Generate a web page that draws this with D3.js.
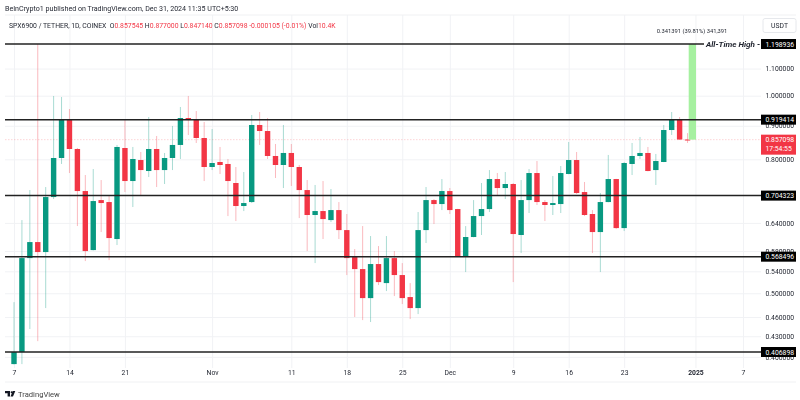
<!DOCTYPE html>
<html><head><meta charset="utf-8">
<script src="https://cdn.jsdelivr.net/npm/d3@7/dist/d3.min.js"></script>
<style>
html,body{margin:0;padding:0;background:#fff;overflow:hidden}
svg{display:block;filter:blur(.3px)}
text{font-family:Roboto,sans-serif;fill:#1e222d}
</style></head><body><svg id="c" width="800" height="400"></svg>
<script>
const opens=[.3900,.4068,.5657,.5984,.5778,.7008,.8037,.9182,.8295,.7157,.5818,.6934,.6886,.6048,.8324,.7413,.7980,.7678,.8295,.7704,.8037,.8413,.9248,.9215,.8621,.7787,.7925,.7870,.7362,.6791,.6886,.9024,.8835,.8094,.7842,.8180,.7787,.7182,.6580,.6672,.6464,.6695,.6241,.5677,.5443,.4916,.5540,.5182,.5657,.5330,.4934,.4747,.6241,.6934,.6838,.7157,.6719,.5697,.6091,.6556,.6719,.7465,.7233,.7336,.6134,.6934,.7624,.6886,.6815,.6838,.7598,.7980,.7132,.6603,.6198,.6886,.7465,.6285,.7870,.8094,.8180,.7704,.7925,.8866,.9194,.857545];
const highs=[.4847,.6464,.7182,1.1989,.7259,.9991,.9955,.9544,.8324,.7571,.7732,.7439,.7033,.8413,.9182,.8354,.8208,.9280,.8682,.8180,.8992,.9612,.9991,.9477,.9119,.8897,.8354,.8009,.7787,.7651,.9346,.9444,.9248,.8442,.9024,.8442,.7842,.7439,.7311,.7413,.7208,.6886,.6603,.5839,.6330,.6112,.5901,.6112,.5798,.5559,.5182,.6649,.7259,.6959,.7465,.7233,.6725,.6330,.6934,.7362,.7704,.7624,.7651,.7362,.7439,.7732,.7952,.6934,.7545,.7814,.8501,.8208,.7388,.6695,.7108,.8123,.7470,.7925,.8472,.8652,.8354,.8151,.9024,.9444,.9280,.8770];
const lows=[.3895,.3900,.4410,.4227,.4747,.6959,.7870,.7624,.6330,.5598,.5810,.6198,.5617,.5922,.7132,.6767,.7058,.7518,.7259,.7336,.7704,.8009,.8713,.8472,.7413,.7704,.7598,.6556,.6442,.6672,.6862,.8413,.8009,.7492,.7233,.7285,.6510,.5798,.5559,.6048,.6419,.6048,.5330,.4600,.4551,.4520,.5146,.5039,.4951,.4814,.4567,.4648,.5964,.6375,.6695,.6603,.5677,.5386,.6085,.6134,.6649,.7033,.6959,.5200,.5758,.6626,.6815,.6442,.6580,.6626,.7590,.7083,.6556,.5758,.5386,.6880,.6263,.6220,.7571,.8009,.7670,.7311,.7920,.8713,.8560,.84714];
const closes=[.4068,.5657,.5984,.5778,.7008,.8037,.9182,.8295,.7157,.5798,.6910,.6862,.6069,.8354,.7413,.8009,.7704,.8295,.7704,.8037,.8413,.9248,.9182,.8621,.7787,.7897,.7842,.7413,.6791,.6862,.9024,.8835,.8094,.7842,.8180,.7787,.7182,.6580,.6672,.6487,.6695,.6241,.5657,.5443,.4916,.5540,.5200,.5657,.5330,.4916,.4747,.6241,.6934,.6838,.7157,.6695,.5697,.6091,.6556,.6719,.7465,.7233,.7336,.6155,.6934,.7624,.6886,.6815,.6862,.7624,.7980,.7108,.6580,.6198,.6886,.7465,.6285,.7897,.8094,.8180,.7678,.7952,.8866,.9215,.8575,.857098];
const levels=[1.198936,.919414,.704323,.568496,.406898];
const priceTicks=[1.1,1.0,.9,.8,.64,.58,.54,.5,.46,.43,.40];
const lastPrice=.857098, athPrice=1.198936;
const startDate=Date.UTC(2024,9,7);
const timeTicks=[[2024,9,7,"7"],[2024,9,14,"14"],[2024,9,21,"21"],[2024,10,1,"Nov"],[2024,10,11,"11"],[2024,10,18,"18"],[2024,10,25,"25"],[2024,11,1,"Dec"],[2024,11,9,"9"],[2024,11,16,"16"],[2024,11,23,"23"],[2025,0,1,"2025"],[2025,0,7,"7"]];
const header="BeInCrypto1 published on TradingView.com, Dec 31, 2024 11:35 UTC+5:30";
const legend=[["SPX6900 / TETHER, 1D, COINEX  O","#1e222d"],["0.857545","#F23645"],[" H","#1e222d"],["0.877000","#F23645"],[" L","#1e222d"],["0.847140","#F23645"],[" C","#1e222d"],["0.857098","#F23645"],[" -0.000105 (-0.01%)","#F23645"],[" Vol","#1e222d"],["10.4K","#F23645"]];

const UP="#089981",DN="#F23645";
const svg=d3.select("#c");
const L=5,R=761,T=15,B=368;
const x=d3.scaleUtc().domain([new Date(startDate),new Date(Date.UTC(2025,0,7))]).range([14,743]);
const y=d3.scaleLog().domain([athPrice,.406898]).range([44,352]);
const dates=opens.map((_,i)=>d3.utcDay.offset(new Date(startDate),i));

svg.append("line").attr("x1",L).attr("x2",796).attr("y1",T).attr("y2",T).attr("stroke","#f0f1f3");
svg.append("line").attr("x1",L).attr("x2",796).attr("y1",382).attr("y2",382).attr("stroke","#f0f1f3");

const tv=timeTicks.map(t=>new Date(Date.UTC(t[0],t[1],t[2])));
const gx=svg.append("g").attr("transform",`translate(0,${B})`)
  .call(d3.axisBottom(x).tickValues(tv).tickSize(-(B-T)).tickPadding(2).tickFormat((d,i)=>timeTicks[i][3]));
gx.select(".domain").remove();
gx.selectAll("line").attr("stroke","#f1f2f5");
gx.selectAll("text").attr("font-size",6.8).style("font-weight",(d,i)=>timeTicks[i][3]==="2025"?"700":"400");
const gy=svg.append("g").attr("transform",`translate(${R},0)`)
  .call(d3.axisRight(y).tickValues(priceTicks).tickSize(-(R-L)).tickPadding(4.5).tickFormat(d3.format(".6f")));
gy.select(".domain").remove();
gy.selectAll("line").attr("stroke","#f1f2f5");
gy.selectAll("text").attr("font-size",6.8);

svg.append("line").attr("x1",L).attr("x2",R).attr("y1",y(lastPrice)).attr("y2",y(lastPrice))
  .attr("stroke",DN).attr("stroke-opacity",.3).attr("stroke-dasharray","1.5 1.5").attr("stroke-width",.7);

const band=5.4;
const g=svg.append("g");
g.selectAll(".wick").data(opens).join("line").attr("class","wick")
  .attr("x1",(d,i)=>x(dates[i])).attr("x2",(d,i)=>x(dates[i]))
  .attr("y1",(d,i)=>y(highs[i])).attr("y2",(d,i)=>y(lows[i]))
  .attr("stroke",(d,i)=>closes[i]>=opens[i]?UP:DN).attr("stroke-opacity",.35).attr("stroke-width",1);
g.selectAll(".body").data(opens).join("rect").attr("class","body")
  .attr("x",(d,i)=>x(dates[i])-band/2).attr("width",band)
  .attr("y",(d,i)=>y(Math.max(opens[i],closes[i])))
  .attr("height",(d,i)=>Math.max(1,Math.abs(y(opens[i])-y(closes[i]))))
  .attr("fill",(d,i)=>closes[i]>=opens[i]?UP:DN);

svg.append("rect").attr("x",688.7).attr("width",7.3).attr("y",y(athPrice)).attr("height",y(lastPrice)-y(athPrice))
  .attr("fill","#a6f0a0");
svg.append("text").attr("x",692).attr("y",33).attr("text-anchor","middle").attr("font-size",5.8).text("0.341391 (39.81%) 341,391");

svg.selectAll(".lvl").data(levels).join("line").attr("class","lvl")
  .attr("x1",L).attr("x2",(d,i)=>i===0?704:R).attr("y1",d=>y(d)).attr("y2",d=>y(d))
  .attr("stroke","#222").attr("stroke-width",1.5);
svg.append("text").attr("x",706).attr("y",y(athPrice)+3).attr("font-size",8.1).style("font-style","italic").style("font-weight",700).text("All-Time High -");

const lab=svg.selectAll(".lab").data(levels).join("g").attr("class","lab").attr("transform",d=>`translate(761,${y(d)})`);
lab.append("rect").attr("y",-5).attr("width",35).attr("height",10).attr("fill","#000");
lab.append("text").attr("x",4.5).attr("y",2.5).attr("font-size",6.8).style("fill","#fff").text(d=>d3.format(".6f")(d));
const lp=svg.append("g").attr("transform",`translate(761,${y(lastPrice)})`);
lp.append("rect").attr("y",-5).attr("width",35).attr("height",20).attr("fill",DN);
lp.append("text").attr("x",4.5).attr("y",2.5).attr("font-size",6.8).style("fill","#fff").text(d3.format(".6f")(lastPrice));
lp.append("text").attr("x",4.5).attr("y",11.5).attr("font-size",6.8).style("fill","#fff").text("17:54:55");

svg.append("rect").attr("x",763).attr("y",18.5).attr("width",33).attr("height",14).attr("rx",2).attr("fill","#fff").attr("stroke","#e6e8ec");
svg.append("text").attr("x",779.5).attr("y",28).attr("text-anchor","middle").attr("font-size",6.8).text("USDT");

svg.append("text").attr("x",5).attr("y",11).attr("font-size",7.1).text(header);
const lt=svg.append("text").attr("x",9).attr("y",28).attr("font-size",6.85).attr("xml:space","preserve");
legend.forEach(s=>lt.append("tspan").style("fill",s[1]).text(s[0]));

svg.append("path").attr("d","M5 391h5v5.5h-2.4v-3.2H5zM10.5 396.5l2.2-5.5h2.6l-2.3 5.5z").attr("fill","#131722");
svg.append("circle").attr("cx",11.6).attr("cy",392.2).attr("r",1).attr("fill","#131722");
svg.append("text").attr("x",18).attr("y",396.5).attr("font-size",7.6).style("fill","#444").text("TradingView");
</script></body></html>
